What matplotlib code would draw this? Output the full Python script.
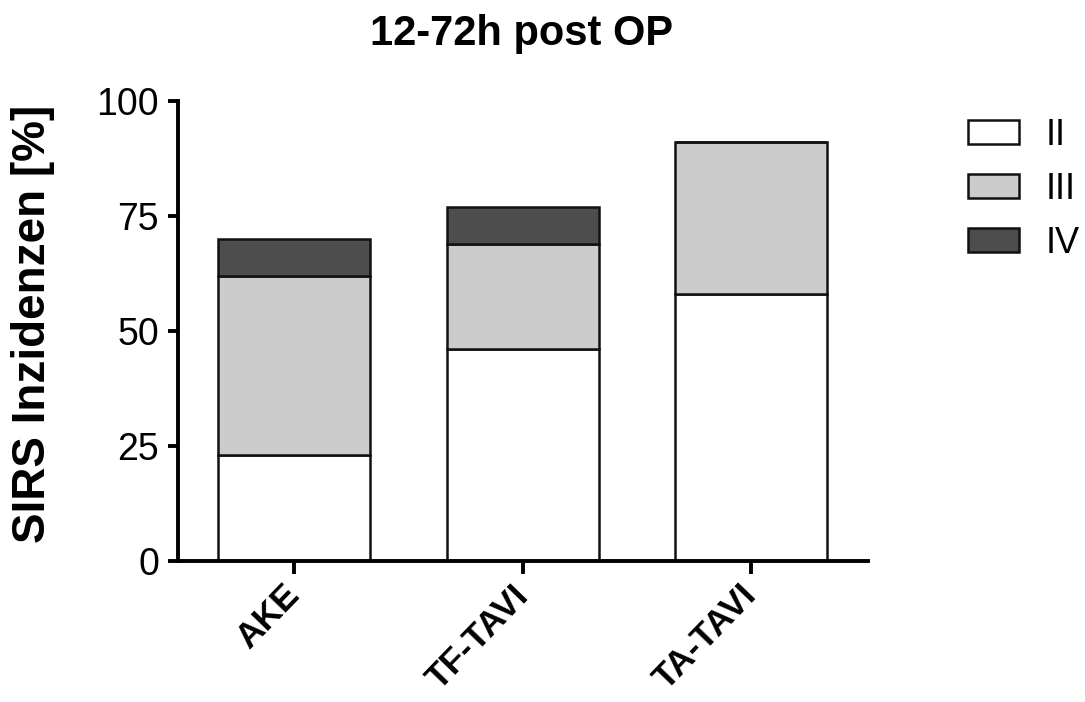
import numpy as np
import matplotlib
matplotlib.use('Agg')
import matplotlib.pyplot as plt
from matplotlib.patches import Patch

plt.rcParams['font.family'] = ['Liberation Sans', 'DejaVu Sans']

groups = ['AKE', 'TF-TAVI', 'TA-TAVI']
grades = ['II', 'III', 'IV']
grade_ii = [23, 46, 58]
grade_iii = [39, 23, 33]
grade_iv = [8, 8, 0]
colors = ['#ffffff', '#cccccc', '#4d4d4d']

fig = plt.figure(figsize=(10.85, 7.02), dpi=100)
ax = fig.add_axes([0.164, 0.2009, 0.636, 0.6552])

x = np.arange(len(groups))
bottom = np.zeros(len(groups))
for vals, col in zip([grade_ii, grade_iii, grade_iv], colors):
    vals = np.array(vals, dtype=float)
    ax.bar(x, vals, width=0.665, bottom=bottom, color=col,
           edgecolor='#111111', linewidth=1.8, zorder=2)
    bottom += vals

ax.set_xlim(-0.51, 2.51)
ax.set_ylim(0, 100)
ax.set_yticks([0, 25, 50, 75, 100])
ax.set_xticks(x)
# rotated category labels end just right of the tick, like the original
ax.set_xticklabels(groups, rotation=46, ha='right', va='center',
                   rotation_mode='anchor', fontsize=25.5, fontweight='bold')
ax.tick_params(axis='y', labelsize=27, length=7.5, width=2.8, pad=6)
ax.tick_params(axis='x', length=9, width=2.8, pad=12)

for s in ['top', 'right']:
    ax.spines[s].set_visible(False)
for s in ['left', 'bottom']:
    ax.spines[s].set_linewidth(2.8)
    ax.spines[s].set_zorder(3)

ax.set_ylabel('SIRS Inzidenzen [%]', fontsize=33, fontweight='bold')
ax.yaxis.set_label_coords(-0.178, 0.515)
fig.text(0.481, 0.936, '12-72h post OP', ha='center', va='baseline',
         fontsize=30, fontweight='bold')

handles = [Patch(facecolor=c, edgecolor='#111111', linewidth=1.8) for c in colors]
fig.legend(handles, grades, loc='upper left', bbox_to_anchor=(0.879, 0.853),
           frameon=False, fontsize=26, handlelength=1.4, handleheight=0.64,
           handletextpad=0.75, labelspacing=0.53, borderaxespad=0)

fig.savefig('out.png', dpi=100)
